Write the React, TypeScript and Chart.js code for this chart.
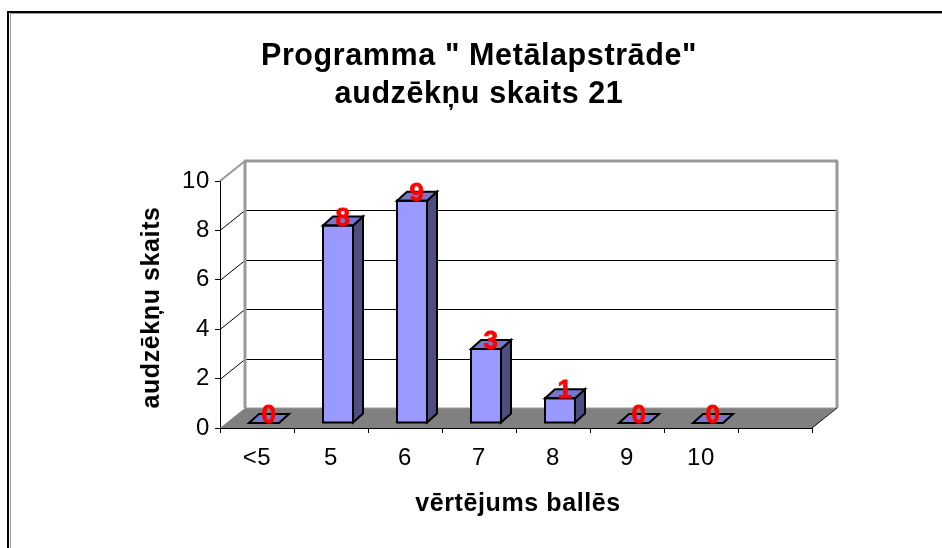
import React, { useEffect, useRef } from "react";
import { Chart, registerables } from "chart.js";

Chart.register(...registerables);

const titleLines = ['Programma " Metālapstrāde"', "audzēkņu skaits 21"];
const categories = ["<5", "5", "6", "7", "8", "9", "10", ""];
const counts = [0, 8, 9, 3, 1, 0, 0, null];
const yTitle = "audzēkņu skaits";
const xTitle = "vērtējums ballēs";

const FONT = "'Liberation Sans', Arial, sans-serif";
const WALL_DX = 25;
const WALL_DY = -20;
const BAR_DX = 7;
const BAR_DY = -5;
const SIDE_DX = 10;
const SIDE_DY = -9;

const poly = (ctx: any, pts: number[][], fill: string | null, stroke: string | null, lw = 1) => {
  ctx.beginPath();
  pts.forEach((p, i) => (i ? ctx.lineTo(p[0], p[1]) : ctx.moveTo(p[0], p[1])));
  ctx.closePath();
  if (fill) {
    ctx.fillStyle = fill;
    ctx.fill();
  }
  if (stroke) {
    ctx.strokeStyle = stroke;
    ctx.lineWidth = lw;
    ctx.lineJoin = "miter";
    ctx.stroke();
  }
};
const seg = (ctx: any, a: number[], b: number[], color: string, lw = 1) => {
  ctx.beginPath();
  ctx.moveTo(a[0], a[1]);
  ctx.lineTo(b[0], b[1]);
  ctx.strokeStyle = color;
  ctx.lineWidth = lw;
  ctx.stroke();
};
const nudgeTitle = (scale: any, dx: number, dy: number) => {
  const orig = scale.drawTitle;
  scale.drawTitle = function () {
    this.ctx.save();
    this.ctx.translate(dx, dy);
    orig.call(this);
    this.ctx.restore();
  };
};

const scene3d = {
  id: "scene3d",
  afterLayout(chart: any) {
    chart.titleBlock.left += 9;
    nudgeTitle(chart.scales.y, 0, 3);
    nudgeTitle(chart.scales.x, 2, 0);
  },
  beforeDraw(chart: any) {
    const ctx = chart.ctx;
    ctx.save();
    ctx.fillStyle = "#fff";
    ctx.fillRect(0, 0, chart.width, chart.height);
    // page frame
    seg(ctx, [10.5, 13.5], [chart.width, 13.5], "#999", 1);
    seg(ctx, [10.5, 13.5], [10.5, chart.height], "#999", 1);
    seg(ctx, [8, 12], [chart.width, 12], "#000", 2);
    seg(ctx, [8, 11], [8, chart.height], "#000", 2);
    ctx.restore();
    ctx.letterSpacing = "0.6px";
  },
  beforeDatasetsDraw(chart: any) {
    const ctx = chart.ctx;
    const { left, right, top, bottom } = chart.chartArea;
    const y = chart.scales.y;
    ctx.save();
    // floor
    poly(
      ctx,
      [
        [left, bottom],
        [left + WALL_DX, bottom + WALL_DY],
        [right + WALL_DX - 1, bottom + WALL_DY],
        [right, bottom],
      ],
      "#808080",
      null
    );
    // grid lines on side and back wall
    (y.ticks as any[]).forEach((t) => {
      const py = Math.round(y.getPixelForValue(t.value));
      if (t.value !== 0 && t.value !== 10) {
        seg(ctx, [left, py + 0.5], [left + WALL_DX, py + WALL_DY + 0.5], "#000", 1);
        seg(ctx, [left + WALL_DX, py + WALL_DY + 0.5], [right + WALL_DX, py + WALL_DY + 0.5], "#000", 1);
      }
    });
    // gray wall edges
    seg(ctx, [left + WALL_DX, top + WALL_DY], [left + WALL_DX, bottom + WALL_DY], "#999", 3);
    seg(ctx, [left + WALL_DX - 1, top + WALL_DY], [right + WALL_DX + 1, top + WALL_DY], "#999", 3);
    seg(ctx, [right + WALL_DX, top + WALL_DY], [right + WALL_DX, bottom + WALL_DY], "#999", 3);
    seg(ctx, [left + WALL_DX, bottom + WALL_DY], [right + WALL_DX, bottom + WALL_DY], "#999", 1);
    seg(ctx, [left, top], [left + WALL_DX, top + WALL_DY], "#999", 2);
    seg(ctx, [right, bottom], [right + WALL_DX, bottom + WALL_DY], "#000", 1);
    ctx.restore();
  },
  beforeDatasetDraw(chart: any) {
    chart.ctx.save();
    chart.ctx.translate(BAR_DX, BAR_DY);
  },
  afterDatasetDraw(chart: any, args: any) {
    const ctx = chart.ctx;
    const meta = args.meta;
    meta.data.forEach((bar: any, i: number) => {
      if (counts[i] === null) return;
      const hw = bar.width / 2;
      const l = bar.x - hw;
      const r = bar.x + hw;
      const t = bar.y;
      const b = bar.base;
      if (b - t > 0) {
        poly(ctx, [[r, t], [r + SIDE_DX, t + SIDE_DY], [r + SIDE_DX, b + SIDE_DY], [r, b]], "#4D4D80", "#000", 2);
      }
      poly(ctx, [[l, t], [l + SIDE_DX, t + SIDE_DY], [r + SIDE_DX, t + SIDE_DY], [r, t]], "#7777CC", "#000", 2);
      if (b - t > 0) {
        poly(ctx, [[l, t], [r, t], [r, b], [l, b]], null, "#000", 2);
      }
    });
    ctx.restore();
  },
  afterDatasetsDraw(chart: any) {
    const ctx = chart.ctx;
    const meta = chart.getDatasetMeta(0);
    ctx.save();
    ctx.fillStyle = "#FF0000";
    ctx.strokeStyle = "#FF0000";
    ctx.lineWidth = 0.8;
    ctx.font = `bold 26px ${FONT}`;
    ctx.textAlign = "center";
    ctx.textBaseline = "middle";
    meta.data.forEach((bar: any, i: number) => {
      if (counts[i] === null) return;
      ctx.fillText(String(counts[i]), bar.x + BAR_DX + 5, bar.y + BAR_DY - 7);
      ctx.strokeText(String(counts[i]), bar.x + BAR_DX + 5, bar.y + BAR_DY - 7);
    });
    ctx.restore();
  },
};

export default function App() {
  const ref = useRef<HTMLCanvasElement>(null);
  useEffect(() => {
    document.body.style.margin = "0";
    const chart = new Chart(ref.current!, {
      type: "bar",
      data: {
        labels: categories,
        datasets: [
          {
            data: counts,
            backgroundColor: "#9999FF",
            borderColor: "#000",
            borderWidth: 0,
            barThickness: 30,
          },
        ],
      },
      options: {
        animation: false,
        responsive: false,
        layout: { padding: { left: 137, right: 130, top: 0, bottom: 29 } },
        plugins: {
          legend: { display: false },
          tooltip: { enabled: false },
          title: {
            display: true,
            text: titleLines,
            color: "#000",
            font: { family: FONT, size: 30.5, weight: "bold", lineHeight: 1.246 },
            padding: { top: 38, bottom: 67 },
          },
        },
        scales: {
          x: {
            afterFit: (s: any) => {
              s.height = 91;
            },
            grid: { drawOnChartArea: false, drawTicks: true, tickLength: 5, tickColor: "#000", offset: true },
            border: { color: "#000", width: 1 },
            ticks: { color: "#000", font: { family: FONT, size: 24 }, padding: 11, maxRotation: 0, autoSkip: false },
            title: { display: true, text: xTitle, color: "#000", font: { family: FONT, size: 25, weight: "bold" }, padding: 0 },
          },
          y: {
            min: 0,
            max: 10,
            afterFit: (s: any) => {
              s.width = 83;
            },
            grid: { drawOnChartArea: false, drawTicks: true, tickLength: 5, tickColor: "#000" },
            border: { color: "#000", width: 1 },
            ticks: { color: "#000", font: { family: FONT, size: 24 }, padding: 5, stepSize: 2 },
            title: { display: true, text: yTitle, color: "#000", font: { family: FONT, size: 25, weight: "bold" }, padding: 0 },
          },
        },
      },
      plugins: [scene3d],
    } as any);
    return () => chart.destroy();
  }, []);
  return <canvas ref={ref} width={942} height={548} style={{ display: "block", width: 942, height: 548 }} />;
}
